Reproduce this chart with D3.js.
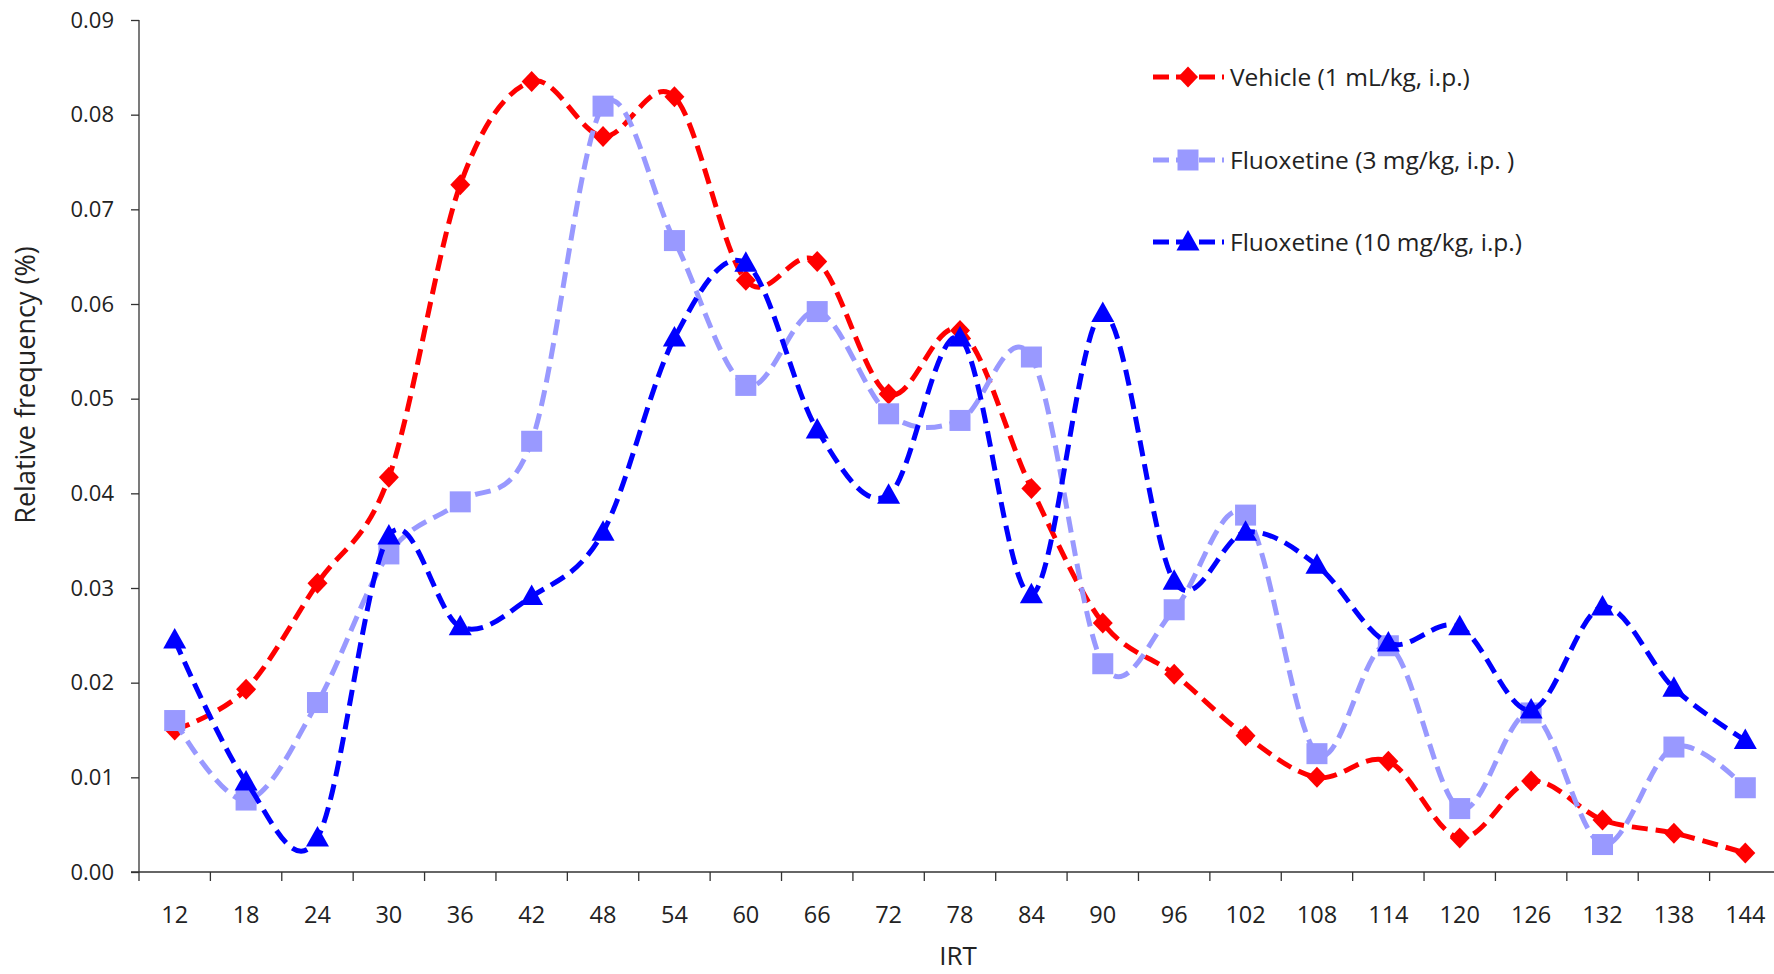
<!DOCTYPE html>
<html><head><meta charset="utf-8">
<script src="https://cdn.jsdelivr.net/npm/d3@7/dist/d3.min.js"></script>
<style>html,body{margin:0;padding:0;background:#fff;}svg{display:block;}</style>
</head><body>
<svg id="chart" width="1774" height="974"></svg>
<script>
const categories = [12,18,24,30,36,42,48,54,60,66,72,78,84,90,96,102,108,114,120,126,132,138,144];
const vehicle = [0.0150,0.0193,0.0305,0.0417,0.0726,0.0835,0.0777,0.0819,0.0625,0.0645,0.0505,0.0572,0.0405,0.0263,0.0209,0.0144,0.0100,0.0117,0.0036,0.0096,0.0055,0.0041,0.0020];
const fluox3 = [0.0160,0.0076,0.0179,0.0336,0.0391,0.0455,0.0809,0.0667,0.0514,0.0592,0.0484,0.0477,0.0544,0.0220,0.0277,0.0377,0.0125,0.0239,0.0067,0.0168,0.0029,0.0132,0.0089];
const fluox10 = [0.0245,0.0095,0.0036,0.0355,0.0259,0.0291,0.0359,0.0564,0.0643,0.0467,0.0398,0.0564,0.0293,0.0590,0.0307,0.0359,0.0324,0.0242,0.0259,0.0171,0.0280,0.0194,0.0139];
const yTicks = [0,0.01,0.02,0.03,0.04,0.05,0.06,0.07,0.08,0.09];
const seriesNames = ["Vehicle (1 mL/kg, i.p.)","Fluoxetine (3 mg/kg, i.p. )","Fluoxetine (10 mg/kg, i.p.)"];
const seriesColors = ["#FF0000","#9999FF","#0000FF"];
const seriesShapes = ["diamond","square","triangle"];
const seriesData = [vehicle, fluox3, fluox10];

const FONT = "'Open Sans', 'Liberation Sans', sans-serif";
const svg = d3.select("#chart");
const x = d3.scaleBand().domain(categories).range([139, 1781]).paddingInner(0).paddingOuter(0);
const y = d3.scaleLinear().domain([0, 0.09]).range([872, 20]);

// axes
const yAxis = svg.append("g").attr("transform","translate(139,0)")
  .call(d3.axisLeft(y).tickValues(yTicks).tickSize(8).tickPadding(17).tickFormat(d3.format(".2f")));
yAxis.select(".domain").attr("stroke","#333").attr("stroke-width",1.3).attr("d","M0,20V872");
yAxis.selectAll(".tick line").attr("stroke","#333").attr("stroke-width",1.3);
yAxis.selectAll(".tick text").attr("font-family",FONT).attr("font-size",22).attr("fill","#222");

const xAxis = svg.append("g").attr("transform","translate(0,872)")
  .call(d3.axisBottom(x).tickSize(0).tickPadding(0));
xAxis.select(".domain").attr("stroke","#333").attr("stroke-width",1.3).attr("d","M131,0H1781");
xAxis.selectAll(".tick text").attr("font-family",FONT).attr("font-size",23.5).attr("fill","#222")
  .attr("y", 51).attr("dy", 0);
// boundary tick marks between categories
const bounds = categories.map(c => x(c)).concat([x(categories[categories.length-1]) + x.bandwidth()]);
svg.append("g").selectAll("line").data(bounds).join("line")
  .attr("x1", d => d).attr("x2", d => d).attr("y1", 872).attr("y2", 881)
  .attr("stroke","#333").attr("stroke-width",1.3);

svg.append("text").attr("x", 958).attr("y", 965).attr("text-anchor","middle")
  .attr("font-family",FONT).attr("font-size",26).attr("fill","#222").text("IRT");
svg.append("text").attr("transform","translate(26,385) rotate(-90)").attr("dy","0.35em").attr("text-anchor","middle")
  .attr("font-family",FONT).attr("font-size",27).attr("fill","#222").text("Relative frequency (%)");

function marker(g, shape, color) {
  if (shape === "diamond") {
    g.append("path").attr("d","M0,-10.5L10,0L0,10.5L-10,0Z").attr("fill",color);
  } else if (shape === "square") {
    g.append("rect").attr("x",-10.5).attr("y",-10.5).attr("width",21).attr("height",21).attr("fill",color);
  } else {
    g.append("path").attr("d","M0,-12L11.5,8.5L-11.5,8.5Z").attr("fill",color);
  }
}

const line = d3.line().x((d,i) => x(categories[i]) + x.bandwidth()/2).y(d => y(d)).curve(d3.curveCatmullRom.alpha(0));
seriesData.forEach((data, si) => {
  const g = svg.append("g");
  g.append("path").attr("d", line(data)).attr("fill","none").attr("stroke", seriesColors[si])
    .attr("stroke-width",5).attr("stroke-dasharray","16,8");
  data.forEach((v,i) => {
    const mg = g.append("g").attr("transform",`translate(${x(categories[i]) + x.bandwidth()/2},${y(v)})`);
    marker(mg, seriesShapes[si], seriesColors[si]);
  });
});

// legend
const legendY = [77, 160, 242];
seriesNames.forEach((name, si) => {
  const g = svg.append("g").attr("transform",`translate(0,${legendY[si]})`);
  g.append("line").attr("x1",1153).attr("x2",1224).attr("y1",0).attr("y2",0)
    .attr("stroke",seriesColors[si]).attr("stroke-width",5).attr("stroke-dasharray","16,7");
  const mg = g.append("g").attr("transform","translate(1188,0)");
  marker(mg, seriesShapes[si], seriesColors[si]);
  g.append("text").attr("x",1230).attr("y",0).attr("dy","0.35em").attr("font-family",FONT)
    .attr("font-size",24.5).attr("fill","#222").text(name);
});
</script>
</body></html>
